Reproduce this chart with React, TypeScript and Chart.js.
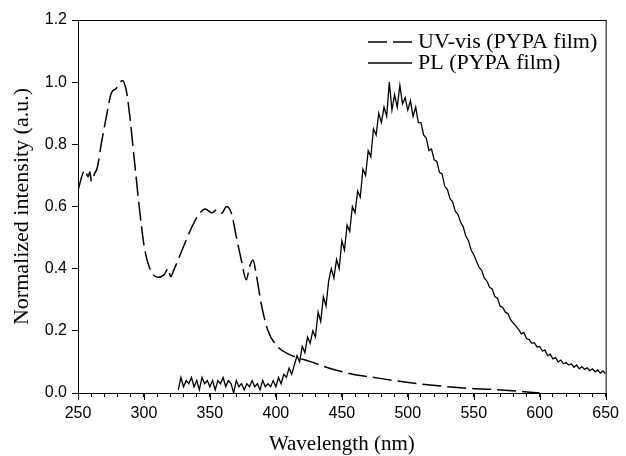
import React, { useEffect, useRef } from "react";
import { Chart, registerables } from "chart.js";

Chart.register(...registerables);

const uvWavelength = [250, 255.2, 257.7, 259, 260.2, 262.7, 264.5, 267.7, 271.5, 275.2, 279, 283.5, 286.5, 289, 292.7, 296.4, 300.2, 304, 310.2, 315.2, 318.4, 320.2, 322.7, 328.9, 336.4, 341.4, 346.4, 351.4, 355.1, 358.8, 362.6, 366.3, 370, 373.8, 377.6, 380, 382.6, 385, 388.8, 393.8, 401.3, 411.3, 426.2, 441.2, 461.2, 471.2, 496.2, 521, 546, 571, 600];
const uvValues = [0.653, 0.717, 0.696, 0.712, 0.68, 0.707, 0.723, 0.803, 0.889, 0.964, 0.98, 1.005, 0.975, 0.9, 0.75, 0.6, 0.471, 0.406, 0.372, 0.38, 0.401, 0.374, 0.396, 0.46, 0.535, 0.573, 0.592, 0.58, 0.589, 0.578, 0.6, 0.578, 0.503, 0.428, 0.364, 0.406, 0.428, 0.385, 0.289, 0.203, 0.149, 0.122, 0.101, 0.079, 0.058, 0.052, 0.036, 0.024, 0.015, 0.01, 0.0];

const plWavelength = [326, 328, 330, 332, 334, 336, 338, 340, 342, 344, 346, 348, 350, 352, 354, 356, 358, 360, 362, 364, 366, 368, 370, 372, 374, 376, 378, 380, 382, 384, 386, 388, 390, 392, 394, 396, 398, 400, 402, 404, 406, 408, 410, 412, 414, 416, 418, 420, 422, 424, 426, 428, 430, 432, 434, 436, 438, 440, 442, 444, 446, 448, 450, 452, 454, 456, 458, 460, 462, 464, 466, 468, 470, 472, 474, 476, 478, 480, 482, 484, 486, 488, 490, 492, 494, 496, 498, 500, 502, 504, 506, 508, 510, 512, 514, 516, 518, 520, 522, 524, 526, 528, 530, 532, 534, 536, 538, 540, 542, 544, 546, 548, 550, 552, 554, 556, 558, 560, 562, 564, 566, 568, 570, 572, 574, 576, 578, 580, 582, 584, 586, 588, 590, 592, 594, 596, 598, 600, 602, 604, 606, 608, 610, 612, 614, 616, 618, 620, 622, 624, 626, 628, 630, 632, 634, 636, 638, 640, 642, 644, 646, 648, 650];
const plValues = [
  0.01, 0.05, 0.02, 0.04, 0.03, 0.05, 0.02, 0.04, 0.01, 0.05, 0.03, 0.04, 0.02, 0.04, 0.01, 0.04, 0.03, 0.05, 0.02, 0.04,
  0.03, 0.0, 0.04, 0.02, 0.03, 0.01, 0.03, 0.02, 0.04, 0.02, 0.03, 0.01, 0.04, 0.02, 0.03, 0.02, 0.04, 0.02, 0.05, 0.03,
  0.06, 0.05, 0.08, 0.06, 0.09, 0.12, 0.1, 0.15, 0.13, 0.18, 0.16, 0.2, 0.18, 0.26, 0.23, 0.31, 0.28, 0.36, 0.4, 0.37,
  0.43, 0.4, 0.49, 0.46, 0.54, 0.52, 0.6, 0.58, 0.65, 0.63, 0.72, 0.7, 0.78, 0.76, 0.85, 0.83, 0.9, 0.87, 0.92, 0.89,
  1.0, 0.91, 0.96, 0.92, 0.99, 0.93, 0.95,
  0.91, 0.94, 0.89, 0.92, 0.87, 0.87, 0.83, 0.82, 0.78, 0.785, 0.75, 0.745, 0.71, 0.705, 0.665, 0.655, 0.625, 0.615, 0.585, 0.575,
  0.55, 0.535, 0.505, 0.49, 0.46, 0.445, 0.425, 0.405, 0.395, 0.37, 0.36, 0.34, 0.335, 0.31, 0.305, 0.28, 0.275, 0.26, 0.255, 0.235,
  0.225, 0.215, 0.205, 0.19, 0.195, 0.175, 0.172, 0.16, 0.162, 0.148, 0.15, 0.135, 0.138, 0.12, 0.125, 0.11, 0.114, 0.1, 0.106, 0.094,
  0.098, 0.09, 0.094, 0.083, 0.09, 0.078, 0.085, 0.076, 0.081, 0.072, 0.078, 0.068, 0.074, 0.064, 0.071, 0.062,
];

const legendLabels = ["UV-vis (PYPA film)", "PL (PYPA film)"];
const xTitle = "Wavelength (nm)";
const yTitle = "Normalized intensity (a.u.)";
const xMajorTicks = [250, 300, 350, 400, 450, 500, 550, 600, 650];

const SERIF = "'Liberation Serif', 'Times New Roman', serif";
const SANS = "'Liberation Sans', Arial, sans-serif";

const framePlugin = {
  id: "frameLegend",
  afterDraw(chart: any) {
    const { ctx, chartArea } = chart;
    const { left, right, top, bottom } = chartArea;
    ctx.save();
    ctx.strokeStyle = "#000";
    ctx.lineWidth = 1;
    ctx.setLineDash([]);
    ctx.strokeRect(left + 0.5, top + 0.5, right - left, bottom - top);
    const xs = chart.scales.x;
    ctx.beginPath();
    xMajorTicks.forEach((v) => {
      const px = Math.round(xs.getPixelForValue(v)) + 0.5;
      ctx.moveTo(px, bottom);
      ctx.lineTo(px, bottom + 7);
    });
    ctx.stroke();
    const lx0 = left + 290;
    const lx1 = left + 334;
    const tx = left + 340;
    const rows = [top + 22, top + 43];
    ctx.lineWidth = 1.5;
    ctx.setLineDash([19, 6]);
    ctx.beginPath();
    ctx.moveTo(lx0, rows[0]);
    ctx.lineTo(lx1, rows[0]);
    ctx.stroke();
    ctx.setLineDash([]);
    ctx.beginPath();
    ctx.moveTo(lx0, rows[1]);
    ctx.lineTo(lx1, rows[1]);
    ctx.stroke();
    ctx.fillStyle = "#000";
    ctx.font = `22px ${SERIF}`;
    ctx.textAlign = "left";
    ctx.textBaseline = "middle";
    ctx.fillText(legendLabels[0], tx, rows[0]);
    ctx.fillText(legendLabels[1], tx, rows[1]);
    ctx.restore();
  },
};

export default function App() {
  const ref = useRef<HTMLCanvasElement | null>(null);
  useEffect(() => {
    if (!ref.current) return;
    const uvData = uvWavelength.map((x, i) => ({ x, y: uvValues[i] }));
    const plData = plWavelength.map((x, i) => ({ x, y: plValues[i] }));
    const chart = new Chart(ref.current, {
      type: "line",
      data: {
        datasets: [
          {
            label: legendLabels[0],
            data: uvData,
            borderColor: "#000",
            borderWidth: 1.5,
            borderDash: [19, 6],
            pointRadius: 0,
            cubicInterpolationMode: "monotone",
            fill: false,
          },
          {
            label: legendLabels[1],
            data: plData,
            borderColor: "#000",
            borderWidth: 1.3,
            pointRadius: 0,
            tension: 0,
            fill: false,
          },
        ],
      },
      options: {
        animation: false,
        responsive: false,
        events: [],
        layout: { padding: { top: 20, right: 14, left: 0, bottom: 0 } },
        plugins: { legend: { display: false }, tooltip: { enabled: false } },
        scales: {
          x: {
            type: "linear",
            min: 250,
            max: 650,
            afterFit: (s: any) => {
              s.height = 63;
            },
            grid: {
              drawOnChartArea: false,
              drawTicks: true,
              tickLength: 4,
              tickColor: "#000",
              tickWidth: 1,
            },
            border: { display: true, color: "#000", width: 1 },
            ticks: {
              stepSize: 10,
              autoSkip: false,
              maxRotation: 0,
              color: "#000",
              padding: 7,
              font: { family: SANS, size: 16 },
              callback: (v: any) => (Number(v) % 50 === 0 ? String(v) : ""),
            },
            title: {
              display: true,
              text: xTitle,
              color: "#000",
              font: { family: SERIF, size: 21 },
              padding: { top: 0, bottom: -1 },
            },
          },
          y: {
            type: "linear",
            min: 0,
            max: 1.2,
            afterFit: (s: any) => {
              s.width = 78;
            },
            grid: {
              drawOnChartArea: false,
              drawTicks: true,
              tickLength: 6,
              tickColor: "#000",
              tickWidth: 1,
            },
            border: { display: true, color: "#000", width: 1 },
            ticks: {
              stepSize: 0.2,
              color: "#000",
              padding: 5,
              font: { family: SANS, size: 16 },
              callback: (v: any) => Number(v).toFixed(1),
            },
            title: {
              display: true,
              text: yTitle,
              color: "#000",
              font: { family: SERIF, size: 22 },
              padding: { top: 9, bottom: 0 },
            },
          },
        },
      },
      plugins: [framePlugin],
    } as any);
    return () => chart.destroy();
  }, []);
  return (
    <div style={{ position: "absolute", left: 0, top: 0, width: 626, height: 456, background: "#fff" }}>
      <canvas ref={ref} width={626} height={456} style={{ width: 626, height: 456, display: "block" }} />
    </div>
  );
}
